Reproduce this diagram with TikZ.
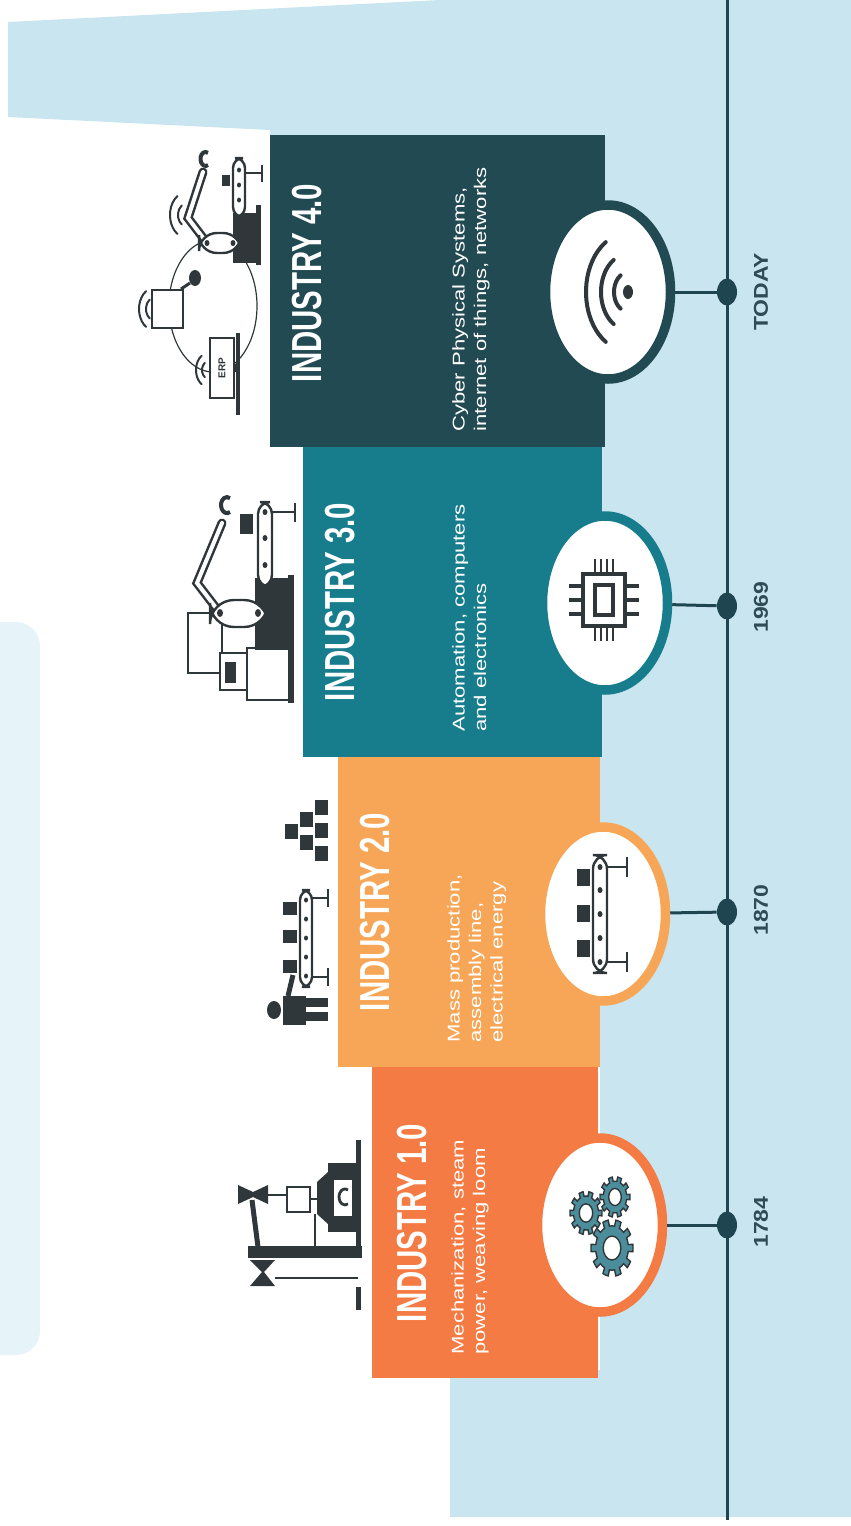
\documentclass[tikz,border=0pt]{standalone}
\usepackage{fontspec}
\setmainfont{Liberation Sans}
\newfontfamily\headfont[FakeStretch=0.7]{Liberation Sans}
\newfontfamily\widefont[FakeStretch=1.3]{Liberation Sans}
\newfontfamily\yearfont[FakeStretch=1.15]{Liberation Sans}
\usetikzlibrary{positioning,shapes.geometric}

\definecolor{bgblue}{HTML}{C9E5EF}
\definecolor{paleblue}{HTML}{E6F3F8}
\definecolor{indone}{HTML}{F47B43}
\definecolor{indtwo}{HTML}{F6A656}
\definecolor{indthree}{HTML}{177D8D}
\definecolor{indfour}{HTML}{224A53}
\definecolor{axis}{HTML}{1F4550}
\definecolor{icon}{HTML}{30373A}
\definecolor{gearfill}{HTML}{4C8D9B}
\definecolor{yeartxt}{HTML}{2F4B55}

\tikzset{
  ring/.style={ellipse, draw=#1, line width=4.75pt, fill=white,
    minimum width=62.5pt, minimum height=87pt, inner sep=0pt},
  dot/.style={ellipse, fill=axis, minimum width=10pt, minimum height=13.5pt, inner sep=0pt},
  link/.style={draw=axis, line width=1.5pt},
  title/.style={rotate=90, text=white, inner sep=0pt,
    font=\headfont\bfseries\fontsize{21}{21}\selectfont},
  desc/.style={rotate=90, anchor=north west, align=left, text=white, inner sep=0pt,
    font=\widefont\fontsize{8.5}{10.75}\selectfont},
  year/.style={rotate=90, text=yeartxt, inner sep=0pt,
    font=\yearfont\bfseries\fontsize{10}{10}\selectfont},
  ico/.style={draw=icon, line width=1.2pt},
  thin/.style={draw=icon, line width=0.6pt},
  bar/.style={draw=icon, line width=4.5pt, line cap=round},
}

% gear: centre x, centre y, outer radius
\newcommand{\gear}[3]{%
  \filldraw[fill=gearfill, draw=icon, line width=0.7pt, even odd rule]
    plot[domain=0:360, samples=241, variable=\t]
      ({#1+#3*(0.78+0.22*(cos(10*\t)>0.25))*cos(\t)},
       {#2+1.35*#3*(0.78+0.22*(cos(10*\t)>0.25))*sin(\t)}) -- cycle
    (#1,#2) ellipse [x radius=0.42*#3, y radius=0.57*#3];
}
% radio waves opening to the left: centre x, centre y, radius, line width
\newcommand{\wave}[4]{%
  \draw[icon, line width=#4, line cap=round]
    ([shift={(122:{#3} and {1.4*#3})}]#1,#2) arc[start angle=122, end angle=238, x radius=#3, y radius=1.4*#3];
}

\begin{document}
\begin{tikzpicture}[x=0.5pt,y=-0.5pt]
\useasboundingbox (0,0) rectangle (851,1526);

% background
\fill[paleblue, rounded corners=12] (-20,622) rectangle (40,1355);
\fill[bgblue] (8,22) -- (440,0) -- (851,0) -- (851,1517) -- (450,1517)
  -- (450,1370) -- (600,1370) -- (600,135) -- (270,135) -- (270,130)
  -- (8,117) -- cycle;

% blocks
\fill[indfour] (270,135) rectangle (605,447);
\fill[indthree] (303,447) rectangle (602,757);
\fill[indtwo] (338,757) rectangle (600,1067);
\fill[indone] (372,1067) rectangle (598,1378);

% timeline
\coordinate (tltop) at (727,0);
\coordinate (tlbot) at (727,1520);
\draw[axis, line width=1.5pt] (tltop) -- (tlbot);

\node[ring=indone] (c1) at (600,1225) {};
\node[ring=indtwo] (c2) at (603,914) {};
\node[ring=indthree] (c3) at (605,603) {};
\node[ring=indfour] (c4) at (608,292) {};

\node[dot] (d1) at (727,1225) {};
\node[dot] (d2) at (727,912) {};
\node[dot] (d3) at (727,606) {};
\node[dot] (d4) at (727,292) {};

\draw[link] (c1) -- (d1);
\draw[link] (c2) -- (d2);
\draw[link] (c3) -- (d3);
\draw[link] (c4) -- (d4);

\node[year] (y1) at (761,1222) {1784};
\node[year] (y2) at (761,910) {1870};
\node[year] (y3) at (761,607) {1969};
\node[year] (y4) at (761,292) {TODAY};

% titles and captions
\node[title] (t1) at (412,1223) {INDUSTRY 1.0};
\node[title] (t2) at (375,912) {INDUSTRY 2.0};
\node[title] (t3) at (340,602) {INDUSTRY 3.0};
\node[title] (t4) at (307,283) {INDUSTRY 4.0};

\node[desc] (p1) at (451,1355) {Mechanization, steam\\power, weaving loom};
\node[desc] (p2) at (447,1043) {Mass production,\\assembly line,\\electrical energy};
\node[desc] (p3) at (452,732) {Automation, computers\\and electronics};
\node[desc] (p4) at (452,432) {Cyber Physical Systems,\\internet of things, networks};

% gears
\gear{586}{1213}{16}
\gear{615}{1197}{15}
\gear{612}{1248}{21}

% conveyor
\draw[ico, rounded corners=7] (593,855) rectangle (607,973);
\foreach \y in {867,890,914,938,962}
  \fill[icon] (600,\y) circle [x radius=2.5, y radius=3];
\draw[ico] (607,867) -- (627,867) (627,857) -- (627,877);
\draw[ico] (607,962) -- (627,962) (627,952) -- (627,972);
\foreach \y in {869,905,940}
  \fill[icon] (577,\y) rectangle (590,\y+17);

% chip
\draw[icon, line width=2.2pt] (583,574) rectangle (625,626);
\draw[icon, line width=1.8pt] (595,585) rectangle (613,615);
\foreach \x in {595,601,607,613} {
  \draw[icon, line width=1.4pt] (\x,559) -- (\x,573);
  \draw[icon, line width=1.4pt] (\x,627) -- (\x,641);
}
\foreach \y in {586,600,614} {
  \draw[icon, line width=1.6pt] (569,\y) -- (582,\y);
  \draw[icon, line width=1.6pt] (626,\y) -- (639,\y);
}

% wifi
\fill[icon] (628,292) circle [x radius=5, y radius=7];
\foreach \r in {14,27,42} {\wave{628}{292}{\r}{2pt}}

% loom
\fill[icon] (356,1140) rectangle (361,1258);
\fill[icon] (356,1287) rectangle (361,1310);
\fill[icon] (248,1246) rectangle (362,1258);
\fill[icon] (328,1163) rectangle (357,1232);
\fill[white] (334,1180) rectangle (352,1216);
\draw[icon, line width=1.4pt] (348,1190) arc[start angle=-60, end angle=-300, x radius=6, y radius=8];
\fill[icon] (317,1182) -- (328,1172) -- (328,1224) -- (317,1214) -- cycle;
\draw[thin] (287,1187) rectangle (310,1212);
\draw[thin] (310,1199) -- (317,1199) (315,1214) -- (315,1246) (268,1195) -- (287,1195);
\fill[icon] (238,1185) -- (253,1192) -- (268,1185) -- (268,1204) -- (253,1197) -- (238,1204) -- cycle;
\draw[icon, line width=2.5pt] (252,1200) -- (258,1247);
\fill[icon] (250,1260) -- (262,1272) -- (250,1286) -- (275,1286) -- (264,1272) -- (275,1260) -- cycle;
\draw[thin] (275,1278) -- (358,1278);

% assembly line worker
\fill[icon] (274,1010) circle [x radius=7, y radius=9];
\fill[icon] (283,996) rectangle (306,1025);
\fill[icon] (306,998) rectangle (328,1007);
\fill[icon] (306,1012) rectangle (328,1021);
\draw[icon, line width=2.5pt] (288,996) -- (293,975);
\draw[ico, rounded corners=5] (300,890) rectangle (312,987);
\foreach \y in {900,919,938,957,976}
  \fill[icon] (306,\y) circle [x radius=2, y radius=2.5];
\draw[ico] (312,898) -- (328,898) (328,889) -- (328,907);
\draw[ico] (312,977) -- (328,977) (328,968) -- (328,986);
\foreach \y in {902,930,960}
  \fill[icon] (283,\y) rectangle (297,\y+13);
\foreach \x/\y in {315/800,315/823,315/846,300/812,300/835,285/824}
  \fill[icon] (\x,\y) rectangle (\x+13,\y+15);

% automation cell
\fill[icon] (255,578) rectangle (290,650);
\fill[icon] (288,575) rectangle (294,703);
\draw[ico] (247,648) rectangle (290,700);
\draw[ico] (188,613) rectangle (222,673);
\filldraw[ico, fill=white] (220,653) rectangle (247,690);
\fill[icon] (225,662) rectangle (236,683);
\draw[bar] (220,613) -- (197,583) -- (222,523);
\draw[white, line width=2pt, line cap=round] (220,613) -- (197,583) -- (222,523);
\filldraw[ico, fill=white, rounded corners=12] (210,600) rectangle (268,627);
\fill[icon] (220,613) circle [x radius=3, y radius=4];
\fill[icon] (258,613) circle [x radius=3, y radius=4];
\draw[icon, line width=2pt] (230,512) arc[start angle=60, end angle=300, x radius=6, y radius=8];
\filldraw[ico, fill=white, rounded corners=6] (258,502) rectangle (272,587);
\foreach \y in {512,538,565}
  \fill[icon] (265,\y) circle [x radius=2.5, y radius=3];
\draw[ico] (272,512) -- (295,512) (295,503) -- (295,522);
\fill[icon] (240,514) rectangle (253,534);

% connected factory
\draw[thin] (213,306) ellipse [x radius=44, y radius=66];
\fill[icon] (233,213) rectangle (258,263);
\fill[icon] (256,205) rectangle (261,265);
\draw[bar] (207,243) -- (188,218) -- (203,172);
\draw[white, line width=2pt, line cap=round] (207,243) -- (188,218) -- (203,172);
\filldraw[ico, fill=white, rounded corners=9] (199,233) rectangle (241,253);
\fill[icon] (207,243) circle [x radius=2.5, y radius=3];
\fill[icon] (233,243) circle [x radius=2.5, y radius=3];
\draw[icon, line width=2pt] (208,165) arc[start angle=60, end angle=300, x radius=5, y radius=7];
\filldraw[ico, fill=white, rounded corners=5] (233,158) rectangle (245,217);
\foreach \y in {170,185,200}
  \fill[icon] (239,\y) circle [x radius=2, y radius=2.5];
\draw[ico] (245,173) -- (262,173) (262,165) -- (262,182);
\fill[icon] (222,175) rectangle (230,186);
\wave{186}{215}{8}{1pt}
\wave{186}{215}{16}{1pt}
\filldraw[ico, fill=white] (152,290) rectangle (183,328);
\fill[icon] (195,278) ellipse [x radius=6, y radius=8];
\draw[icon, line width=1.5pt] (190,283) -- (181,289);
\wave{154}{309}{8}{1pt}
\wave{154}{309}{15}{1pt}
\filldraw[ico, fill=white] (210,338) rectangle (234,398);
\fill[icon] (234,364) rectangle (238,372);
\fill[icon] (236,333) rectangle (240,415);
\node[rotate=90, text=icon, inner sep=0pt, font=\bfseries\fontsize{5}{5}\selectfont] (erp) at (222,368) {ERP};
\wave{208}{370}{6}{1pt}
\wave{208}{370}{12}{1pt}
\end{tikzpicture}
\end{document}
